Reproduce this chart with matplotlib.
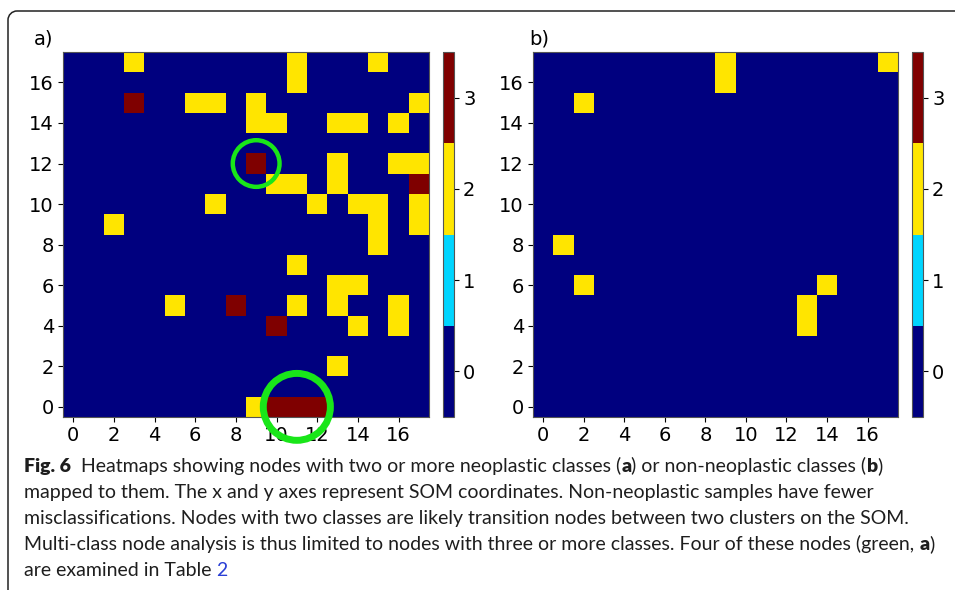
import numpy as np
import matplotlib
matplotlib.use("Agg")
import matplotlib.pyplot as plt
from matplotlib.path import Path
from matplotlib.patches import PathPatch, Circle

plt.rcParams["font.family"] = ["DejaVu Sans"]

# ---------------- data ----------------
grid_size = 18
ticks = list(range(0, 17, 2))
cbar_ticks = [0, 1, 2, 3]

# panel a: nodes with two (value 2) / three (value 3) neoplastic classes
a_two_x = [3, 11, 15, 11, 6, 7, 9, 17, 9, 10, 13, 14, 16, 13, 16, 17, 10, 11, 13,
           7, 12, 14, 15, 17, 2, 15, 17, 15, 11, 13, 14, 5, 11, 13, 16, 14, 16, 13, 9]
a_two_y = [17, 17, 17, 16, 15, 15, 15, 15, 14, 14, 14, 14, 14, 12, 12, 12, 11, 11, 11,
           10, 10, 10, 10, 10, 9, 9, 9, 8, 7, 6, 6, 5, 5, 5, 5, 4, 4, 2, 0]
a_three_x = [3, 9, 17, 8, 10, 10, 11, 12]
a_three_y = [15, 12, 11, 5, 4, 0, 0, 0]

# panel b: nodes with two non-neoplastic classes
b_two_x = [9, 9, 17, 2, 1, 2, 14, 13, 13]
b_two_y = [17, 16, 17, 15, 8, 6, 6, 5, 4]

# highlighted nodes (green circles) in panel a: centre x, centre y, radius
circle_x = [9, 11]
circle_y = [12, 0]
circle_r = [1.15, 1.65]
circle_lw = [3.2, 5.0]

panel_labels = ["a)", "b)"]


def build(two_x, two_y, three_x, three_y):
    g = np.zeros((grid_size, grid_size))
    for x, y in zip(two_x, two_y):
        g[y, x] = 2
    for x, y in zip(three_x, three_y):
        g[y, x] = 3
    return g


grid_a = build(a_two_x, a_two_y, a_three_x, a_three_y)
grid_b = build(b_two_x, b_two_y, [], [])

# ---------------- figure ----------------
W, H = 955, 590
fig = plt.figure(figsize=(W / 100, H / 100), dpi=100)
cmap = plt.get_cmap("jet", 4)


def fr(x0, y0, x1, y1):
    return [x0 / W, 1 - y1 / H, (x1 - x0) / W, (y1 - y0) / H]


def panel(grid, ax_box, cax_box, label, label_x):
    ax = fig.add_axes(fr(*ax_box))
    im = ax.imshow(grid, origin="lower", cmap=cmap, vmin=-0.5, vmax=3.5,
                   aspect="auto", interpolation="nearest")
    ax.set_xticks(ticks)
    ax.set_yticks(ticks)
    ax.tick_params(labelsize=14, length=3.5, width=0.8, pad=3)
    for s in ax.spines.values():
        s.set_color("#555555")
        s.set_linewidth(0.8)
    cax = fig.add_axes(fr(*cax_box))
    cb = fig.colorbar(im, cax=cax, ticks=cbar_ticks)
    cb.ax.tick_params(labelsize=14, length=3.5, width=0.8, pad=3)
    cb.outline.set_edgecolor("#555555")
    cb.outline.set_linewidth(0.8)
    fig.text(label_x / W, 1 - 39 / H, label, fontsize=14, ha="left", va="center")
    return ax


ax_a = panel(grid_a, (63, 52, 429, 417), (443, 52, 454, 417), panel_labels[0], 34)
ax_b = panel(grid_b, (533, 52, 898, 417), (912, 52, 923, 417), panel_labels[1], 529)

for cx, cy, r, lw in zip(circle_x, circle_y, circle_r, circle_lw):
    ax_a.add_patch(Circle((cx, cy), r, fill=False, edgecolor="#19e619",
                          linewidth=lw, clip_on=False, zorder=20))

# ---------------- frame with rounded corner ----------------
r = 9
k = 0.5523 * r
lx, ty = 8, 11
pts = [(lx, H + 5), (lx, ty + r), (lx, ty + r - k), (lx + r - k, ty), (lx + r, ty), (W + 5, ty)]
codes = [Path.MOVETO, Path.LINETO, Path.CURVE4, Path.CURVE4, Path.CURVE4, Path.LINETO]
pts_f = [(x / W, 1 - y / H) for x, y in pts]
fig.add_artist(PathPatch(Path(pts_f, codes), fill=False, edgecolor="#222222",
                         linewidth=1.1, transform=fig.transFigure, clip_on=False))

# ---------------- caption ----------------
ink = "#1e1e1e"
caption_lines = [
    [("Fig. 6", "heavy", ink), ("  Heatmaps showing nodes with two or more neoplastic classes (", "normal", ink),
     ("a", "heavy", ink), (") or non-neoplastic classes (", "normal", ink),
     ("b", "heavy", ink), (")", "normal", ink)],
    [("mapped to them. The x and y axes represent SOM coordinates. Non-neoplastic samples have fewer", "normal", ink)],
    [("misclassifications. Nodes with two classes are likely transition nodes between two clusters on the SOM.", "normal", ink)],
    [("Multi-class node analysis is thus limited to nodes with three or more classes. Four of these nodes (green, ", "normal", ink),
     ("a", "heavy", ink), (")", "normal", ink)],
    [("are examined in Table ", "normal", ink), ("2", "normal", "#2a3fd6")],
]
baselines = [472, 498, 524, 550, 576]
x_start = 24
target_end = 878
cap_family = ["Lato", "DejaVu Sans"]

renderer = fig.canvas.get_renderer()


def line_width(runs, size):
    total = 0
    for txt, wt, col in runs:
        t = fig.text(0, 0, txt, fontsize=size, family=cap_family, fontweight=wt)
        total += t.get_window_extent(renderer).width
        t.remove()
    return total


size = 12.0
w1 = line_width(caption_lines[0], size)
size = size * (target_end - x_start) / w1

for runs, yb in zip(caption_lines, baselines):
    x = x_start
    for txt, wt, col in runs:
        t = fig.text(x / W, 1 - yb / H, txt, fontsize=size, family=cap_family,
                     fontweight=wt, color=col, ha="left", va="baseline")
        x += t.get_window_extent(renderer).width

fig.savefig("out.png", dpi=100)
